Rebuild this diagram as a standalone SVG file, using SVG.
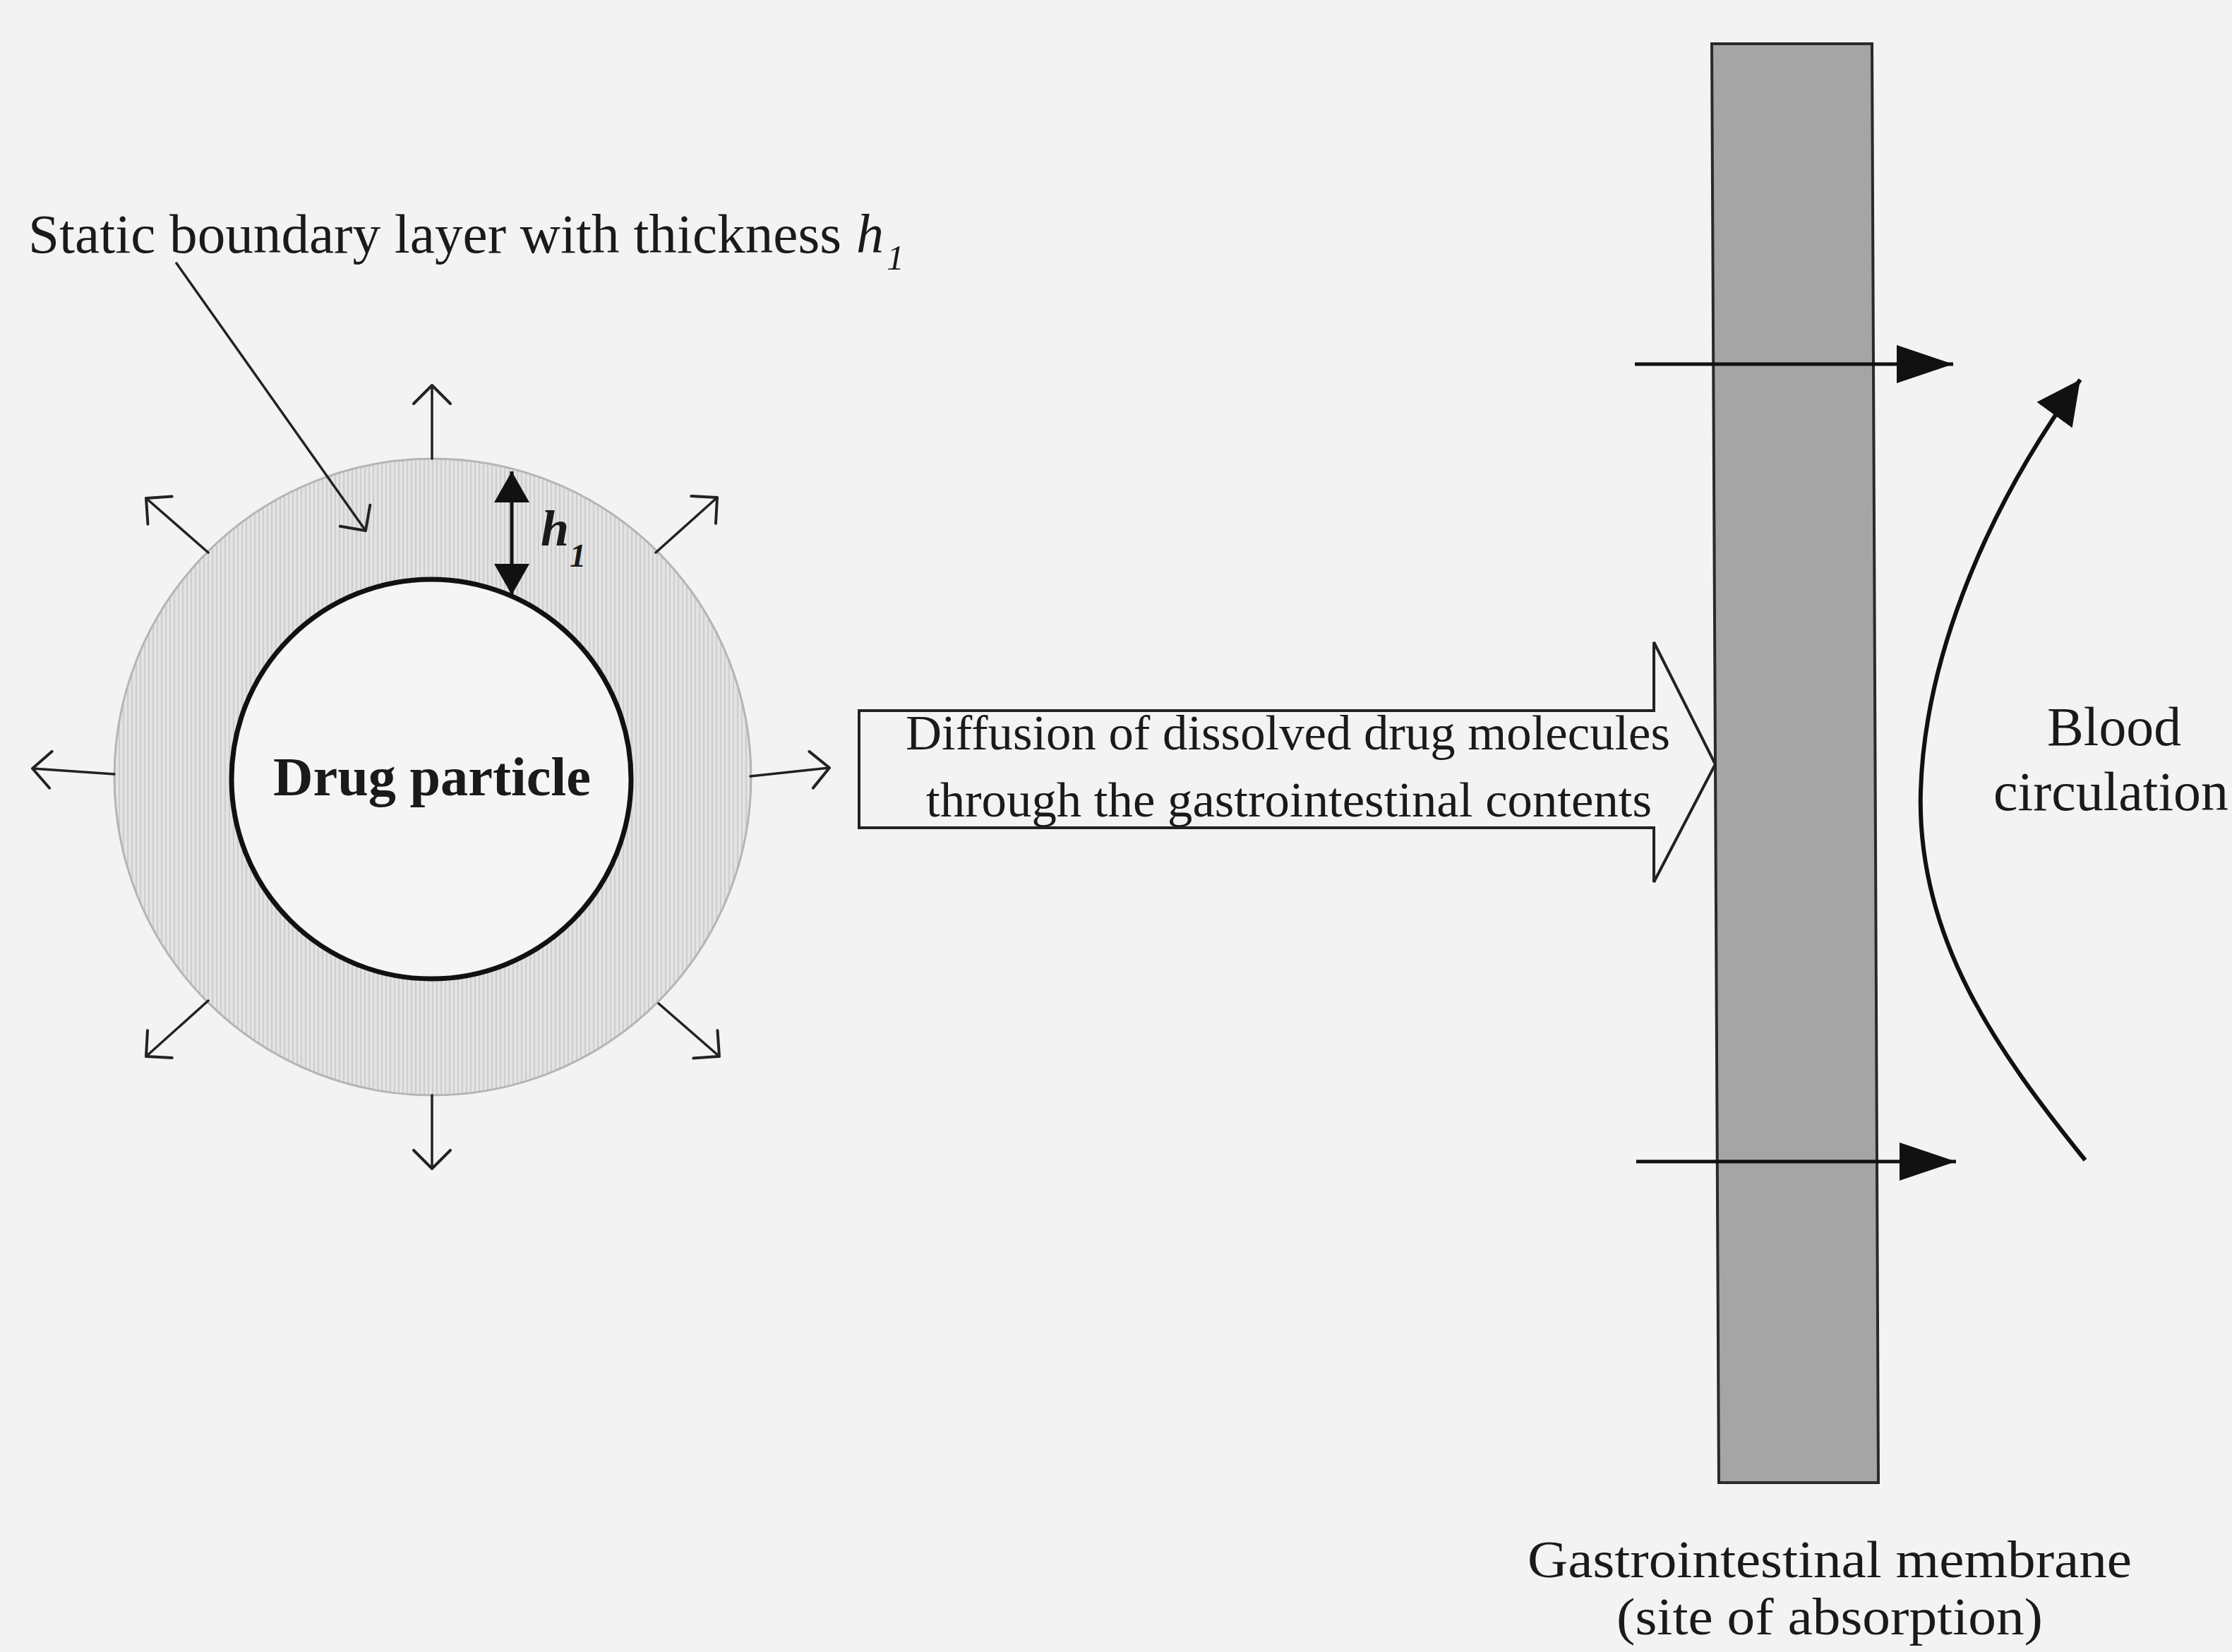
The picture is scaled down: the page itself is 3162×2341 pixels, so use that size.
<svg xmlns="http://www.w3.org/2000/svg" width="3162" height="2341" viewBox="0 0 3162 2341">
  <style>
    .txt { font-family: "Liberation Serif", "Times New Roman", serif; fill: #1a1a1a; }
    .thin { stroke: #222; stroke-width: 3.5; fill: none; stroke-linecap: round; }
    .thick { stroke: #111; stroke-width: 5; fill: none; }
  </style>
  <defs>
    <pattern id="stip" width="6" height="6" patternUnits="userSpaceOnUse">
      <rect width="6" height="6" fill="#e3e3e3"/>
      <rect x="0" y="0" width="2" height="6" fill="#cdcdcd"/>
    </pattern>
    <marker id="vopen" viewBox="0 0 32 58" refX="29" refY="29" markerWidth="32" markerHeight="58" markerUnits="userSpaceOnUse" orient="auto">
      <path d="M3,3 L29,29 L3,55" fill="none" stroke="#222" stroke-width="4" stroke-linecap="round" stroke-linejoin="round"/>
    </marker>
    <marker id="tri" viewBox="0 0 80 54" refX="80" refY="27" markerWidth="80" markerHeight="54" markerUnits="userSpaceOnUse" orient="auto">
      <path d="M0,0 L80,27 L0,54 Z" fill="#111"/>
    </marker>
    <marker id="triC" viewBox="0 0 62 62" refX="62" refY="31" markerWidth="62" markerHeight="62" markerUnits="userSpaceOnUse" orient="auto">
      <path d="M0,0 L62,31 L0,62 Z" fill="#111"/>
    </marker>
    <marker id="triS" viewBox="0 0 44 50" refX="44" refY="25" markerWidth="44" markerHeight="50" markerUnits="userSpaceOnUse" orient="auto-start-reverse">
      <path d="M0,0 L44,25 L0,50 Z" fill="#111"/>
    </marker>
  </defs>

  <rect x="0" y="0" width="3162" height="2341" fill="#f3f3f3"/>

  <g id="boundary-layer">
    <circle cx="613" cy="1101" r="451" fill="url(#stip)" stroke="#b5b5b5" stroke-width="3"/>
  </g>

  <g id="drug-particle">
    <circle cx="611" cy="1104" r="283" fill="#f5f5f5" stroke="#111" stroke-width="7"/>
    <text class="txt" x="387" y="1127" font-size="78" font-weight="bold" textLength="450" lengthAdjust="spacingAndGlyphs">Drug particle</text>
  </g>

  <g id="boundary-label">
    <text class="txt" x="40" y="358" font-size="78" textLength="1152" lengthAdjust="spacingAndGlyphs">Static boundary layer with thickness</text>
    <text class="txt" x="1213" y="358" font-size="78" font-style="italic">h</text>
    <text class="txt" x="1256" y="382" font-size="50" font-style="italic">1</text>
  </g>

  <g id="h1-label">
    <text class="txt" x="766" y="773" font-size="72" font-weight="bold" font-style="italic">h</text>
    <text class="txt" x="807" y="803" font-size="46" font-weight="bold" font-style="italic">1</text>
  </g>

  <g id="membrane">
    <polygon points="2425,62 2652,62 2661,2101 2435,2101" fill="#a5a5a5" stroke="#2a2a2a" stroke-width="4"/>
    <text class="txt" x="2164" y="2235" font-size="74" textLength="856" lengthAdjust="spacingAndGlyphs">Gastrointestinal membrane</text>
    <text class="txt" x="2290" y="2316" font-size="74" textLength="604" lengthAdjust="spacingAndGlyphs">(site of absorption)</text>
  </g>

  <g id="diffusion-arrow">
    <polygon points="1217,1007 2343,1007 2343,910 2430,1083 2343,1250 2343,1173 1217,1173" fill="none" stroke="#222" stroke-width="4" stroke-linejoin="miter"/>
    <text class="txt" x="1283" y="1062" font-size="70" textLength="1083" lengthAdjust="spacingAndGlyphs">Diffusion of dissolved drug molecules</text>
    <text class="txt" x="1312" y="1157" font-size="70" textLength="1028" lengthAdjust="spacingAndGlyphs">through the gastrointestinal contents</text>
  </g>

  <g id="blood-circulation">
    <text class="txt" x="2900" y="1056" font-size="78" textLength="190" lengthAdjust="spacingAndGlyphs">Blood</text>
    <text class="txt" x="2824" y="1148" font-size="78" textLength="333" lengthAdjust="spacingAndGlyphs">circulation</text>
  </g>

  <g id="connectors">
    <line class="thin" x1="612" y1="650" x2="612" y2="546" marker-end="url(#vopen)"/>
    <line class="thin" x1="612" y1="1552" x2="612" y2="1656" marker-end="url(#vopen)"/>
    <line class="thin" x1="162" y1="1097" x2="46" y2="1089" marker-end="url(#vopen)"/>
    <line class="thin" x1="1063" y1="1100" x2="1175" y2="1088" marker-end="url(#vopen)"/>
    <line class="thin" x1="295" y1="783" x2="207" y2="706" marker-end="url(#vopen)"/>
    <line class="thin" x1="929" y1="783" x2="1016" y2="705" marker-end="url(#vopen)"/>
    <line class="thin" x1="295" y1="1418" x2="207" y2="1497" marker-end="url(#vopen)"/>
    <line class="thin" x1="933" y1="1422" x2="1019" y2="1497" marker-end="url(#vopen)"/>
    <line class="thin" x1="250" y1="373" x2="518" y2="752" marker-end="url(#vopen)"/>
    <line x1="725" y1="668" x2="725" y2="843" stroke="#111" stroke-width="5" marker-start="url(#triS)" marker-end="url(#triS)"/>
    <line class="thick" x1="2316" y1="516" x2="2767" y2="516" marker-end="url(#tri)"/>
    <line class="thick" x1="2318" y1="1646" x2="2771" y2="1646" marker-end="url(#tri)"/>
    <path d="M2954,1644 C2830,1490 2715,1330 2721,1121 C2726,950 2800,740 2947,538" fill="none" stroke="#111" stroke-width="6" marker-end="url(#triC)"/>
  </g>
</svg>
